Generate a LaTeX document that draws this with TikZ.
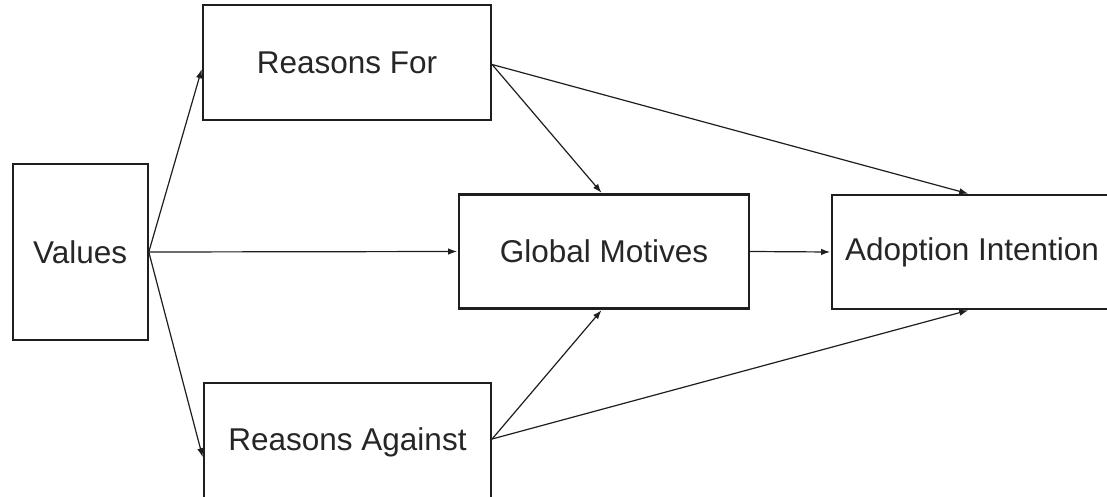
\documentclass[tikz,border=0pt]{standalone}
\usepackage{fontspec}
\setmainfont{Liberation Sans}
\usetikzlibrary{arrows.meta}
\definecolor{ink}{HTML}{1E1E1E}
\definecolor{txt}{HTML}{262626}
\tikzset{
  box/.style={draw=ink, line width=2.2pt, fill=white, inner sep=0pt, text=txt,
    font=\fontsize{31.5}{38}\selectfont},
  link/.style={draw=ink, line width=1.2pt, -{Latex[length=9pt,width=6.5pt]}, shorten >=0.8pt}
}
\begin{document}
\begin{tikzpicture}[x=1pt,y=-1pt]
\useasboundingbox (0,0) rectangle (1107,497);
\clip (0,0) rectangle (1107,497);
\fill[white] (0,0) rectangle (1107,497);
\node[box, minimum width=135pt, minimum height=176pt] (val) at (80.2,252) {Values};
\node[box, minimum width=288pt, minimum height=115pt] (rf) at (347,62.5) {Reasons For};
\node[box, minimum width=287pt, minimum height=118pt] (ra) at (347.5,442) {Reasons Against};
\node[box, minimum width=290pt, minimum height=114pt] (gm) at (604,251.5) {Global Motives};
\node[box, minimum width=280pt, minimum height=114pt] (ai) at (972,252) {Adoption Intention};
\draw[link] (val.east) -- ([yshift=-6pt]rf.west);
\draw[link] (val.east) -- (gm.west);
\draw[link] (val.east) -- ([yshift=-16pt]ra.west);
\draw[link] ([yshift=-2pt]rf.east) -- ([xshift=-2pt]gm.north);
\draw[link] ([yshift=-2pt]rf.east) -- ([xshift=-3pt]ai.north);
\draw[link] ([yshift=3pt]ra.east) -- ([xshift=-2pt]gm.south);
\draw[link] ([yshift=3pt]ra.east) -- ([xshift=-3pt]ai.south);
\draw[link] (gm.east) -- (ai.west);
\end{tikzpicture}
\end{document}
